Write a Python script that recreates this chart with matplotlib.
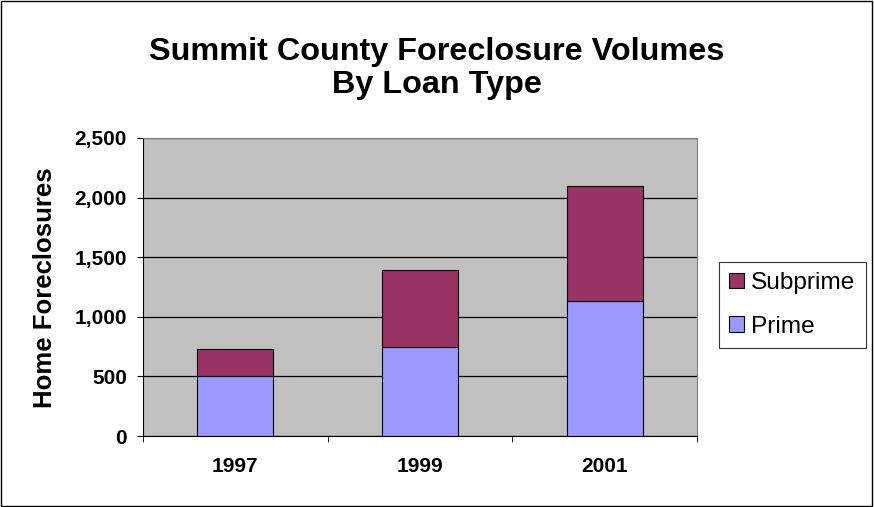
import matplotlib
matplotlib.use("Agg")
import matplotlib.pyplot as plt
import numpy as np

years = ["1997", "1999", "2001"]
prime = [505, 745, 1130]
subprime = [226, 650, 965]
yticks = [0, 500, 1000, 1500, 2000, 2500]
ytick_labels = ["0", "500", "1,000", "1,500", "2,000", "2,500"]

plt.rcParams['font.family'] = ['Liberation Sans', 'DejaVu Sans']

W, H = 874, 507
fig = plt.figure(figsize=(W/100, H/100), dpi=100)
ax = fig.add_axes([143/W, 1-436/H, (697-143)/W, (436-138)/H])
ax.set_facecolor("#C0C0C0")

x = np.arange(len(years))
w = 0.41
ax.bar(x, prime, w, color="#9999FF", edgecolor="black", linewidth=0.8, label="Prime", zorder=3)
ax.bar(x, subprime, w, bottom=prime, color="#993366", edgecolor="black", linewidth=0.8, label="Subprime", zorder=3)

ax.set_xlim(-0.5, 2.5)
ax.set_ylim(0, 2500)
ax.set_yticks(yticks)
ax.set_yticklabels(ytick_labels, fontsize=15, fontweight="bold")
ax.set_xticks(x)
ax.set_xticklabels(years, fontsize=15, fontweight="bold")
ax.tick_params(axis="x", length=0, pad=15)
ax.set_xticks([-0.5, 0.5, 1.5, 2.5], minor=True)
ax.tick_params(axis="x", which="minor", length=4.5, direction="out")
ax.tick_params(axis="y", length=4.5, direction="out", pad=7)
ax.grid(axis="y", color="black", linewidth=0.9, zorder=1)
for s in ["top", "right"]:
    ax.spines[s].set_color("#808080")
for s in ["left", "bottom"]:
    ax.spines[s].set_color("black")

fig.text(45/W, 1-288/H, "Home Foreclosures", rotation=90, ha="center", va="center",
         fontsize=18.5, fontweight="bold")

cx = (148+725)/2/W
fig.text(cx, 1-60/H, "Summit County Foreclosure Volumes", ha="center", va="baseline",
         fontsize=23.3, fontweight="bold")
fig.text(cx, 1-93/H, "By Loan Type", ha="center", va="baseline",
         fontsize=23.3, fontweight="bold")

handles, labels = ax.get_legend_handles_labels()
leg = fig.legend(handles[::-1], labels[::-1], loc="upper left",
                 bbox_to_anchor=(719/W, 1-262/H), fontsize=17.6,
                 frameon=True, fancybox=False, edgecolor="black",
                 handlelength=0.6, handleheight=0.6, handletextpad=0.3,
                 borderpad=0.42, labelspacing=0.88, borderaxespad=0)
leg.get_frame().set_linewidth(0.8)

fig.patches.append(plt.Rectangle((0.001, 0.001), 0.997, 0.997, transform=fig.transFigure,
                                 fill=False, edgecolor="black", linewidth=1))

fig.savefig("out.png", dpi=100)
